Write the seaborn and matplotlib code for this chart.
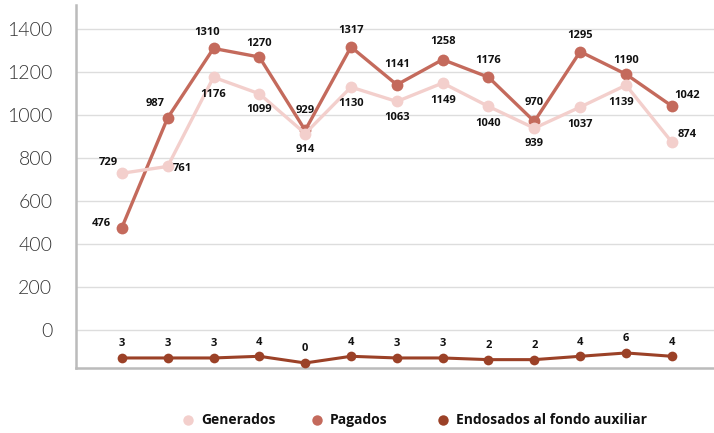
import matplotlib
matplotlib.use("Agg")
import matplotlib.pyplot as plt
import seaborn as sns
import pandas as pd
from matplotlib.lines import Line2D

# ---- data ----
periods = list(range(13))
generados = [729, 761, 1176, 1099, 914, 1130, 1063, 1149, 1040, 939, 1037, 1139, 874]
pagados = [476, 987, 1310, 1270, 929, 1317, 1141, 1258, 1176, 970, 1295, 1190, 1042]
endosados = [3, 3, 3, 4, 0, 4, 3, 3, 2, 2, 4, 6, 4]
y_ticks = [0, 200, 400, 600, 800, 1000, 1200, 1400]
series_names = ["Generados", "Pagados", "Endosados al fondo auxiliar"]

# label offsets (pixels) - styling only
gen_off = [(-14, 11), (15, -2), (0, -17), (0, -16), (0, -16), (0, -16), (0, -16),
           (0, -17), (0, -17), (0, -15), (0, -17), (-5, -17), (15, 8)]
pag_off = [(-21, 4), (-13, 14), (-6, 16), (0, 14), (0, 20), (0, 16), (0, 20),
           (0, 18), (0, 17), (0, 19), (0, 16), (0, 14), (15, 11)]

c_gen = "#f3cfcc"
c_pag = "#c46a5c"
c_end = "#9b4127"

sns.set_theme(style="white")
plt.rcParams['font.family'] = ['Open Sans', 'DejaVu Sans']

lab_font = dict(family=['Open Sans', 'DejaVu Sans'], weight='bold', size=8)
tick_font = dict(family=['Lato', 'DejaVu Sans'], weight=300, size=14)

fig = plt.figure(figsize=(7.14, 4.33), dpi=100)
ax = fig.add_axes([76/714, 1-368/433, 1-76/714, 363/433])

df = pd.DataFrame({"periodo": periods, "Generados": generados,
                   "Pagados": pagados, "Endosados": endosados})

sns.lineplot(data=df, x="periodo", y="Pagados", ax=ax, color=c_pag, lw=2.4,
             marker="o", markersize=8.5, markeredgewidth=0, zorder=3)
sns.lineplot(data=df, x="periodo", y="Generados", ax=ax, color=c_gen, lw=2.4,
             marker="o", markersize=8.5, markeredgewidth=0, zorder=4)

ax.set_xlim(-1, 12.92)
ax.set_ylim(-177, 1512)
ax.set_yticks(y_ticks)
ax.set_yticklabels([str(v) for v in y_ticks], color="#333333", **tick_font)
ax.set_xticks([])
ax.set_xlabel("")
ax.set_ylabel("")
ax.tick_params(axis="y", length=0, pad=17)
ax.grid(axis="y", color="#dddddd", lw=1.0)
ax.set_axisbelow(True)
for s in ["top", "right"]:
    ax.spines[s].set_visible(False)
for s in ["left", "bottom"]:
    ax.spines[s].set_color("#bbbbbb")
    ax.spines[s].set_linewidth(1.8)

for x, v, (dx, dy) in zip(periods, generados, gen_off):
    ax.annotate(str(v), (x, v), xytext=(dx*0.72, dy*0.72), textcoords="offset points",
                ha="center", va="center", color="#111111", zorder=6, **lab_font)
for x, v, (dx, dy) in zip(periods, pagados, pag_off):
    ax.annotate(str(v), (x, v), xytext=(dx*0.72, dy*0.72), textcoords="offset points",
                ha="center", va="center", color="#111111", zorder=6, **lab_font)

ax2 = ax.twinx()
sns.lineplot(data=df, x="periodo", y="Endosados", ax=ax2, color=c_end, lw=2.2,
             marker="o", markersize=7, markeredgewidth=0, zorder=3)
ax2.set_ylim(-3, 214)
ax2.set_xlim(-1, 12.92)
ax2.set_yticks([])
ax2.set_ylabel("")
ax2.set_xlabel("")
for s in ax2.spines.values():
    s.set_visible(False)
for x, v in zip(periods, endosados):
    ax2.annotate(str(v), (x, v), xytext=(0, 14*0.72), textcoords="offset points",
                 ha="center", va="center", color="#111111", **lab_font)

# legend drawn manually (uneven spacing as in reference)
leg_y = 1 - 420/433
for dot_x, name, c in zip([188, 317, 443], series_names, (c_gen, c_pag, c_end)):
    fig.add_artist(Line2D([dot_x/714], [leg_y], transform=fig.transFigure, ls="none",
                          marker="o", markersize=7.5, color=c, markeredgewidth=0))
    fig.text((dot_x + 13)/714, leg_y, name, ha="left", va="center",
             family=['Open Sans', 'DejaVu Sans'], weight='bold', size=10, color="#111111")

fig.savefig("out.png", dpi=100)
